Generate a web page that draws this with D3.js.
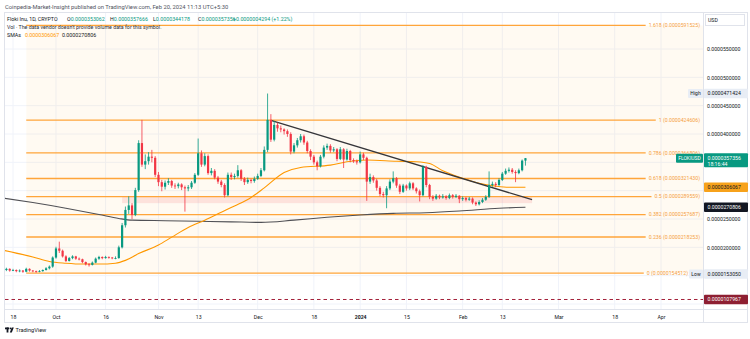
<!DOCTYPE html>
<html><head><meta charset="utf-8">
<script src="https://cdn.jsdelivr.net/npm/d3@7"></script>
<style>body{margin:0;background:#fff}svg{display:block;font-family:Roboto,"Noto Sans",sans-serif}</style>
</head><body><svg id="c" width="750" height="339"></svg>
<script>
// ---------- DATA (prices in units of 1e-6 USD) ----------
const startDate = "2023-09-16";
const opens = [16.0,16.2,15.9,16.0,15.8,15.9,15.7,16.2,15.9,15.8,15.7,15.8,16.0,16.3,
16.6,18.2,19.8,19.4,18.4,17.6,18.1,18.4,18.0,17.9,17.4,17.0,16.9,17.3,18.0,18.3,18.1,18.3,18.2,18.1,
18.1,20.0,23.9,26.6,27.4,25.7,30.1,38.4,34.6,35.2,36.0,35.8,32.8,31.5,30.7,31.4,31.7,30.9,30.8,31.1,30.6,30.4,30.6,31.4,
32.8,36.6,34.6,36.1,33.1,33.5,32.3,31.6,31.0,29.2,32.8,32.4,32.6,33.6,32.1,31.5,31.9,31.7,32.1,32.6,33.6,
37.2,42.5,39.0,41.6,41.0,40.8,40.5,40.0,36.9,38.0,38.9,39.6,38.5,37.0,36.0,35.0,34.3,36.0,37.6,37.9,37.1,37.3,35.6,37.3,35.5,37.0,35.4,35.2,35.0,
36.4,35.8,31.6,32.4,31.8,30.5,29.4,29.2,30.4,31.6,32.2,30.9,29.8,30.9,30.4,31.3,30.4,29.9,29.2,34.2,31.0,
28.9,28.6,29.1,28.8,29.0,28.7,29.2,28.9,29.1,28.5,28.7,28.4,28.6,27.9,
27.6,28.0,28.4,28.9,31.0,31.2,31.0,31.9,33.0,33.5,33.7,33.3,33.1,33.6,35.3062];
const closes = [16.2,15.9,16.0,15.8,15.9,15.7,16.2,15.9,15.8,15.7,15.8,16.0,16.3,16.6,
18.2,19.8,19.4,18.4,17.6,18.1,18.4,18.0,17.9,17.4,17.0,16.9,17.3,18.0,18.3,18.1,18.3,18.2,18.1,18.1,
20.0,23.9,26.6,27.4,25.7,30.1,38.4,34.6,35.2,36.0,35.8,32.8,31.5,30.7,31.4,31.7,30.9,30.8,31.1,30.6,30.4,30.6,31.4,32.8,
36.6,34.6,36.1,33.1,33.5,32.3,31.6,31.0,29.2,32.8,32.4,32.6,33.6,32.1,31.5,31.9,31.7,32.1,32.6,33.6,37.2,
42.5,39.0,41.6,41.0,40.8,40.5,40.0,36.9,38.0,38.9,39.6,38.5,37.0,36.0,35.0,34.3,36.0,37.6,37.9,37.1,37.3,35.6,37.3,35.5,37.0,35.4,35.2,35.0,36.4,
35.8,31.6,32.4,31.8,30.5,29.4,29.2,30.4,31.6,32.2,30.9,29.8,30.9,30.4,31.3,30.4,29.9,29.2,34.2,31.0,28.9,
28.6,29.1,28.8,29.0,28.7,29.2,28.9,29.1,28.5,28.7,28.4,28.6,27.9,27.6,
28.0,28.4,28.9,31.0,31.2,31.0,31.9,33.0,33.5,33.7,33.3,33.1,33.6,35.3062,35.7356];
const highs = [16.4,16.3,16.2,16.1,16.1,16.0,16.4,16.3,16.0,15.9,16.0,16.1,16.5,16.8,
18.4,20.1,21.0,19.6,18.6,18.3,18.6,18.5,18.2,18.0,17.5,17.2,17.5,18.2,18.5,18.4,18.5,18.4,18.3,18.4,
20.3,24.3,27.2,29.0,27.8,30.5,38.9,42.5,36.4,36.8,37.2,36.1,33.3,31.9,31.8,32.2,31.9,31.3,31.4,31.3,30.9,31.0,31.7,33.1,
39.2,37.1,36.6,36.4,34.0,33.8,32.6,31.9,31.3,33.2,33.2,33.0,34.5,33.8,32.4,32.3,32.1,32.5,33.0,34.0,37.8,
47.1424,43.5,42.3,42.0,41.5,41.0,40.8,40.3,38.4,39.3,40.0,39.9,38.8,37.3,36.3,35.3,36.3,38.0,38.3,38.2,37.7,37.5,37.7,37.5,37.4,37.2,35.7,35.5,36.9,
36.7,36.0,33.0,32.7,32.1,30.8,29.8,30.8,32.0,33.4,32.4,31.2,31.2,31.1,31.6,31.5,30.6,30.2,34.5,34.4,31.2,
29.2,29.4,29.3,29.4,29.2,29.5,29.4,29.4,29.2,29.0,28.9,28.9,28.8,28.1,
28.3,28.7,29.2,33.4,31.6,31.5,32.2,33.3,33.9,34.1,34.0,33.6,33.9,35.5,35.7666];
const lows = [15.8,15.7,15.8,15.6,15.6,15.5,15.6,15.7,15.6,15.5,15.6,15.7,15.9,16.1,
16.4,18.0,19.0,18.2,17.4,17.5,17.9,17.8,17.7,17.2,16.8,16.6,16.8,17.2,17.8,17.9,18.0,18.0,17.9,17.9,
18.0,19.8,23.5,25.9,25.0,25.5,29.8,34.2,33.8,34.6,35.0,32.4,30.8,29.9,30.2,31.0,30.5,30.3,30.4,30.1,26.3,29.9,30.3,31.2,
32.6,34.2,34.3,32.8,32.7,32.0,31.2,30.6,28.8,29.0,31.9,32.0,32.3,31.7,31.0,31.2,31.3,31.4,31.9,32.4,33.4,
36.8,38.6,38.7,40.4,40.3,39.9,39.5,36.4,36.6,37.6,38.5,38.1,36.6,35.4,34.6,33.6,34.1,35.7,37.2,36.7,36.8,35.2,35.4,34.0,35.3,35.0,34.9,34.6,34.8,
35.4,28.2,31.2,31.4,30.0,29.0,28.8,26.9,30.1,31.3,30.5,29.4,29.6,30.0,30.1,30.1,29.5,28.1,29.0,30.6,28.5,
28.2,28.4,28.5,28.6,28.4,28.5,28.6,28.7,27.8,28.2,28.1,28.2,27.6,27.3,
27.4,27.8,28.2,28.7,30.7,30.6,30.8,31.7,32.8,33.2,33.0,31.5,32.9,33.4,34.4178];

const sma50Dates = ["2023-09-15","2023-09-24","2023-09-29","2023-10-04","2023-10-09","2023-10-14","2023-10-19","2023-10-22","2023-10-26","2023-11-01","2023-11-05","2023-11-10","2023-11-15","2023-11-20","2023-11-24","2023-11-29","2023-12-03","2023-12-09","2023-12-14","2023-12-23","2023-12-28","2024-01-03","2024-01-12","2024-01-18","2024-01-22","2024-01-26","2024-02-01","2024-02-06","2024-02-11","2024-02-15","2024-02-20"];
const sma50Values = [19.5,18.3,17.5,17.2,17.05,17.05,17.2,17.7,18.9,20.4,21.8,23.5,24.8,26.2,27.3,28.8,30.5,33.2,34.1,34.5,35.1,35.4,35.2,35.1,34.8,33.5,32.2,31.3,30.8,30.6,30.6067];
const sma200Dates = ["2023-09-15","2023-09-24","2023-10-04","2023-10-14","2023-10-20","2023-10-24","2023-11-03","2023-11-13","2023-11-23","2023-12-02","2023-12-12","2023-12-22","2024-01-01","2024-01-11","2024-01-21","2024-01-31","2024-02-12","2024-02-20"];
const sma200Values = [28.7,27.9,26.9,25.8,25.1,24.8,24.7,24.6,24.5,24.4,24.8,25.3,25.7,26.0,26.1,26.4,26.9,27.0806];

const fibStartDate = "2023-09-22";
const fibPrices = [15.4512,21.8253,25.7687,28.9559,32.1430,36.6806,42.4606,59.1525];
const fibLabels = ["0 (0.0000154512)","0.236 (0.0000218253)","0.382 (0.0000257687)","0.5 (0.0000289559)","0.618 (0.0000321430)","0.786 (0.0000366806)","1 (0.0000424606)","1.618 (0.0000591525)"];

const trendDates = ["2023-12-05","2024-02-22"];
const trendValues = [42.4,28.4];
const zoneDates = ["2023-10-21","2024-02-22"];
const zoneValues = [27.8,28.95];
const alertValue = 10.7967;

const priceTicks = [10,15,20,25,30,35,40,45,50,55];
const priceTickLabels = ["0.0000100000","0.0000150000","0.0000200000","0.0000250000","0.0000300000","0.0000350000","0.0000400000","0.0000450000","0.0000500000","0.0000550000"];
const timeTicks = ["2023-09-18","2023-10-01","2023-10-16","2023-11-01","2023-11-13","2023-12-01","2023-12-18","2024-01-01","2024-01-15","2024-02-01","2024-02-13","2024-03-01","2024-03-18","2024-04-01"];
const timeTickLabels = ["18","Oct","16","Nov","13","Dec","18","2024","15","Feb","13","Mar","18","Apr"];

const lastClose = 35.7356, highValue = 47.1424, lowValue = 15.305, sma50Last = 30.6067, sma200Last = 27.0806;

// ---------- CHART ----------
const parse = d3.utcParse("%Y-%m-%d");
const svg = d3.select("#c");
const L = 5, R = 703, T = 13, B = 309;
const x = d3.scaleUtc().domain([parse("2023-09-16"), parse("2024-04-01")]).range([6.4, 661]);
const y = d3.scaleLinear().domain([10, 60]).range([304, 20.67]);
const dates = closes.map((_, i) => d3.utcDay.offset(parse(startDate), i));
const green = "#089981", red = "#f23645", orange = "#ff9800";
const tagValues = [highValue, lastClose, sma50Last, sma200Last, lowValue, alertValue];

svg.append("rect").attr("width",750).attr("height",339).attr("fill","#fff");
svg.append("defs").append("clipPath").attr("id","clip").append("rect").attr("x",L).attr("y",T).attr("width",R-L).attr("height",B-T);
const plot = svg.append("g").attr("clip-path","url(#clip)");

// grid
plot.append("g").selectAll("line").data(timeTicks).join("line")
  .attr("x1",d=>x(parse(d))).attr("x2",d=>x(parse(d))).attr("y1",T).attr("y2",B)
  .attr("stroke","#f0f3fa").attr("stroke-width",1);
plot.append("g").selectAll("line").data(priceTicks).join("line")
  .attr("x1",L).attr("x2",R).attr("y1",d=>y(d)).attr("y2",d=>y(d))
  .attr("stroke","#f0f3fa").attr("stroke-width",1);

// fib fill
const fx = x(parse(fibStartDate));
plot.append("rect").attr("x",fx).attr("y",y(fibPrices[7])).attr("width",R-fx)
  .attr("height",y(fibPrices[0])-y(fibPrices[7])).attr("fill",orange).attr("fill-opacity",0.05);

// zone
plot.append("rect").attr("x",x(parse(zoneDates[0]))).attr("y",y(zoneValues[1]))
  .attr("width",x(parse(zoneDates[1]))-x(parse(zoneDates[0])))
  .attr("height",y(zoneValues[0])-y(zoneValues[1]))
  .attr("fill",red).attr("fill-opacity",0.12);

// fib lines + labels
const gFib = plot.append("g");
fibPrices.forEach((p,i)=>{
  const near = Math.abs(y(p)-y(lowValue)) < 7 || Math.abs(y(p)-y(highValue)) < 7;
  const xr = near ? 688 : 700;
  const t = gFib.append("text").attr("x",xr).attr("y",y(p)).attr("dy","0.35em")
    .attr("text-anchor","end").attr("font-size",5.2).attr("fill","#f5a142").text(fibLabels[i]);
  const w = t.node().getComputedTextLength();
  gFib.insert("line","text").attr("x1",fx).attr("x2",xr-w-3).attr("y1",y(p)).attr("y2",y(p))
    .attr("stroke","#ffa53a").attr("stroke-width",1.3);
});

// SMA lines
const sLine = d3.line().x(d=>x(d[0])).y(d=>y(d[1])).curve(d3.curveMonotoneX);
plot.append("path").datum(sma200Dates.map((d,i)=>[parse(d),sma200Values[i]]))
  .attr("d",sLine).attr("fill","none").attr("stroke","#505055").attr("stroke-width",1.1);
plot.append("path").datum(sma50Dates.map((d,i)=>[parse(d),sma50Values[i]]))
  .attr("d",sLine).attr("fill","none").attr("stroke",orange).attr("stroke-width",1.1);

// trendline
plot.append("line").attr("x1",x(parse(trendDates[0]))).attr("y1",y(trendValues[0]))
  .attr("x2",x(parse(trendDates[1]))).attr("y2",y(trendValues[1]))
  .attr("stroke","#36363a").attr("stroke-width",1.3);

// candles
const gC = plot.append("g");
const bw = 2.2;
dates.forEach((d,i)=>{
  const up = closes[i] >= opens[i];
  const c = up ? green : red;
  const cx = x(d);
  gC.append("line").attr("x1",cx).attr("x2",cx).attr("y1",y(highs[i])).attr("y2",y(lows[i]))
    .attr("stroke",c).attr("stroke-width",0.8);
  const yt = y(Math.max(opens[i],closes[i])), yb = y(Math.min(opens[i],closes[i]));
  gC.append("rect").attr("x",cx-bw/2).attr("y",yt).attr("width",bw).attr("height",Math.max(0.8,yb-yt)).attr("fill",c);
});

// alert dashed line
plot.append("line").attr("x1",L).attr("x2",R).attr("y1",y(alertValue)).attr("y2",y(alertValue))
  .attr("stroke","#a3213a").attr("stroke-width",1).attr("stroke-dasharray","3.5,3");

// in-plot labels
function tag(xr, yc, txt, bg, fg, w){
  const g = svg.append("g");
  g.append("rect").attr("x",xr-w).attr("y",yc-4.5).attr("width",w).attr("height",9).attr("fill",bg).attr("rx",1);
  g.append("text").attr("x",xr-w/2).attr("y",yc).attr("dy","0.35em").attr("text-anchor","middle")
    .attr("font-size",5).attr("fill",fg).text(txt);
}
tag(703, y(highValue), "High", "#e8edf5", "#131722", 15);
tag(703, y(lowValue), "Low", "#e8edf5", "#131722", 14);
tag(703, y(lastClose), "FLOKIUSD", green, "#fff", 27);

// header
const hdr = svg.append("g").attr("font-size",5.3).attr("fill","#131722");
svg.append("text").attr("x",5).attr("y",9).attr("font-size",5.8).attr("fill","#50535e")
  .text("Coinpedia-Market-Insight published on TradingView.com, Feb 20, 2024 11:13 UTC+5:30");
const l2 = hdr.append("text").attr("x",7).attr("y",20.5);
l2.append("tspan").text("Floki Inu, 1D, CRYPTO");
[["O","0.0000353062",67],["H","0.0000357666",110],["L","0.0000344178",153],["C","0.0000357356",198]].forEach(a=>{
  l2.append("tspan").attr("x",a[2]).text(a[0]);
  l2.append("tspan").attr("fill",green).text(a[1]);
});
l2.append("tspan").attr("x",233).attr("fill",green).text("+0.0000004294 (+1.22%)");
hdr.append("text").attr("x",7).attr("y",28.8).attr("fill","#2a2e39")
  .text("Vol · The data vendor doesn't provide volume data for this symbol.");
const l4 = hdr.append("text").attr("x",7).attr("y",37);
l4.append("tspan").text("SMAs");
l4.append("tspan").attr("x",25).attr("fill",orange).text("0.0000306067");
l4.append("tspan").attr("x",62).attr("fill","#131722").text("0.0000270806");

// frame & separators
svg.append("rect").attr("x",4.5).attr("y",12.5).attr("width",743).attr("height",310).attr("fill","none").attr("stroke","#e0e3eb");
svg.append("line").attr("x1",R+0.5).attr("x2",R+0.5).attr("y1",12.5).attr("y2",322.5).attr("stroke","#e0e3eb");
svg.append("line").attr("x1",4.5).attr("x2",747.5).attr("y1",B+0.5).attr("y2",B+0.5).attr("stroke","#e0e3eb");

// price axis (labels hidden where a value tag sits)
const ya = svg.append("g").attr("transform",`translate(${R},0)`)
  .call(d3.axisRight(y).tickValues(priceTicks).tickFormat((d,i)=>priceTickLabels[i]).tickSize(0).tickPadding(4));
ya.select(".domain").remove();
ya.selectAll("text").attr("font-size",5.2).attr("fill","#131722").attr("font-family","Roboto,sans-serif")
  .attr("display",d=>tagValues.some(v=>Math.abs(y(v)-y(d))<9.5)?"none":null);

// time axis
const xa = svg.append("g").attr("transform",`translate(0,${B})`)
  .call(d3.axisBottom(x).tickValues(timeTicks.map(parse)).tickFormat((d,i)=>timeTickLabels[i]).tickSize(0).tickPadding(6));
xa.select(".domain").remove();
xa.selectAll("text").attr("font-size",5.2).attr("fill","#131722").attr("font-family","Roboto,sans-serif")
  .attr("font-weight",(d,i)=>timeTickLabels[i]==="2024"?"bold":"normal");

// USD box
svg.append("rect").attr("x",705.5).attr("y",14.5).attr("width",39).attr("height",11).attr("fill","#fff").attr("stroke","#e0e3eb");
svg.append("text").attr("x",708).attr("y",20).attr("dy","0.35em").attr("font-size",5.2).attr("fill","#131722").text("USD");

// axis value labels
function axTag(v, txt, bg, fg, h, sub){
  const g = svg.append("g");
  const yc = y(v);
  g.append("rect").attr("x",704).attr("y",yc-4.8).attr("width",44).attr("height",h).attr("fill",bg).attr("rx",1);
  g.append("text").attr("x",707.5).attr("y",yc).attr("dy","0.35em").attr("font-size",5.2).attr("fill",fg).text(txt);
  if (sub) g.append("text").attr("x",707.5).attr("y",yc+6).attr("dy","0.35em").attr("font-size",5.2).attr("fill",fg).text(sub);
}
axTag(highValue, "0.0000471424", "#e8edf5", "#131722", 9.6);
axTag(lastClose, "0.0000357356", green, "#fff", 14, "18:16:44");
axTag(sma50Last, "0.0000306067", "#f7a21b", "#131722", 9.6);
axTag(sma200Last, "0.0000270806", "#131722", "#fff", 9.6);
axTag(lowValue, "0.0000153050", "#e8edf5", "#131722", 9.6);
axTag(alertValue, "0.0000107967", "#8e1f32", "#fff", 9.6);

// TradingView logo
const lg = svg.append("g").attr("fill","#131722");
lg.append("rect").attr("x",5).attr("y",327.5).attr("width",4.2).attr("height",1.8);
lg.append("rect").attr("x",6.6).attr("y",327.5).attr("width",1.8).attr("height",5);
lg.append("circle").attr("cx",10.6).attr("cy",328.4).attr("r",0.9);
lg.append("path").attr("d","M11.8 327.5 L13.8 327.5 L11.8 332.5 L9.8 332.5 Z");
svg.append("text").attr("x",15.5).attr("y",332.3).attr("font-size",5.6).attr("fill","#131722").text("TradingView");
</script></body></html>
